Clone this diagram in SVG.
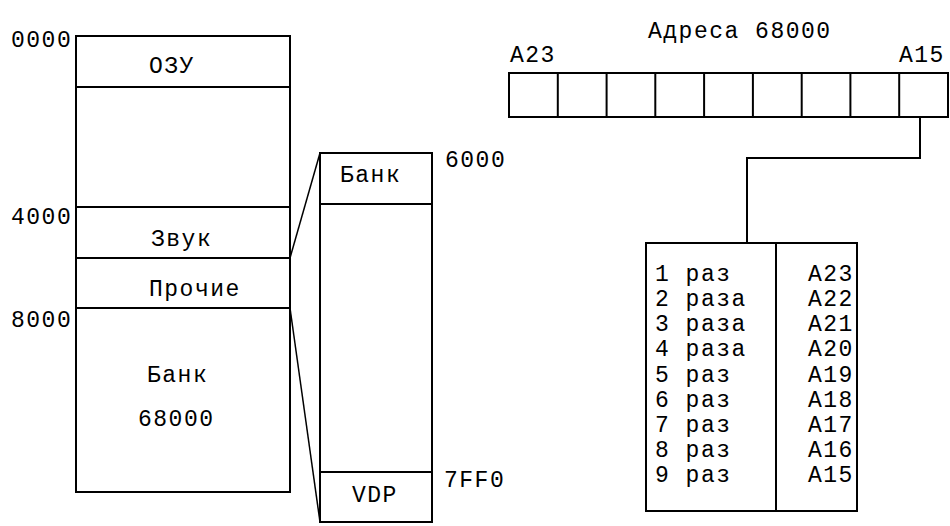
<svg xmlns="http://www.w3.org/2000/svg" width="950" height="526" viewBox="0 0 950 526">
<style>
text{font-family:"Liberation Mono","DejaVu Sans Mono",monospace;font-size:23px;letter-spacing:1.5px;fill:#000}
.box{fill:#fff;stroke:#000;stroke-width:2}
.ln{fill:none;stroke:#000;stroke-width:2}
.thin{fill:none;stroke:#000;stroke-width:1.5}
</style>
<rect width="950" height="526" fill="#fff"/>
<g id="memory-map">
<rect class="box" x="76" y="36" width="214" height="456"/>
<line class="ln" x1="76" y1="87" x2="290" y2="87"/>
<line class="ln" x1="76" y1="207" x2="290" y2="207"/>
<line class="ln" x1="76" y1="258" x2="290" y2="258"/>
<line class="ln" x1="76" y1="308" x2="290" y2="308"/>
<text x="11" y="47">0000</text>
<text x="11" y="224">4000</text>
<text x="11" y="327">8000</text>
<text x="149" y="73">ОЗУ</text>
<text x="151" y="246">Звук</text>
<text x="149" y="296">Прочие</text>
<text x="147" y="382">Банк</text>
<text x="138" y="426">68000</text>
</g>
<g id="bank-window">
<rect class="box" x="320" y="153" width="112" height="369"/>
<line class="ln" x1="320" y1="204" x2="432" y2="204"/>
<line class="ln" x1="320" y1="472" x2="432" y2="472"/>
<text x="340" y="182">Банк</text>
<text x="352" y="502">VDP</text>
<text x="445" y="167">6000</text>
<text x="444" y="487">7FF0</text>
</g>
<g id="address-register">
<rect class="box" x="509" y="73" width="439" height="44"/>
<line class="ln" x1="557.8" y1="73" x2="557.8" y2="117"/>
<line class="ln" x1="606.6" y1="73" x2="606.6" y2="117"/>
<line class="ln" x1="655.3" y1="73" x2="655.3" y2="117"/>
<line class="ln" x1="704.1" y1="73" x2="704.1" y2="117"/>
<line class="ln" x1="752.9" y1="73" x2="752.9" y2="117"/>
<line class="ln" x1="801.7" y1="73" x2="801.7" y2="117"/>
<line class="ln" x1="850.4" y1="73" x2="850.4" y2="117"/>
<line class="ln" x1="899.2" y1="73" x2="899.2" y2="117"/>
<text x="648" y="38">Адреса 68000</text>
<text x="510" y="62">A23</text>
<text x="899" y="62">A15</text>
</g>
<g id="shift-table">
<rect class="box" x="646" y="243" width="211" height="268"/>
<line class="ln" x1="776" y1="243" x2="776" y2="511"/>
<text x="655" y="281">1 раз</text>
<text x="655" y="306">2 раза</text>
<text x="655" y="331">3 раза</text>
<text x="655" y="356">4 раза</text>
<text x="655" y="382">5 раз</text>
<text x="655" y="407">6 раз</text>
<text x="655" y="432">7 раз</text>
<text x="655" y="457">8 раз</text>
<text x="655" y="482">9 раз</text>
<text x="808" y="281">A23</text>
<text x="808" y="306">A22</text>
<text x="808" y="331">A21</text>
<text x="808" y="356">A20</text>
<text x="808" y="382">A19</text>
<text x="808" y="407">A18</text>
<text x="808" y="432">A17</text>
<text x="808" y="457">A16</text>
<text x="808" y="482">A15</text>
</g>
<g id="connectors">
<line class="thin" x1="290" y1="258" x2="320" y2="153"/>
<line class="thin" x1="290" y1="308" x2="320" y2="522"/>
<polyline class="ln" points="920,117 920,158 747,158 747,243"/>
</g>
</svg>
